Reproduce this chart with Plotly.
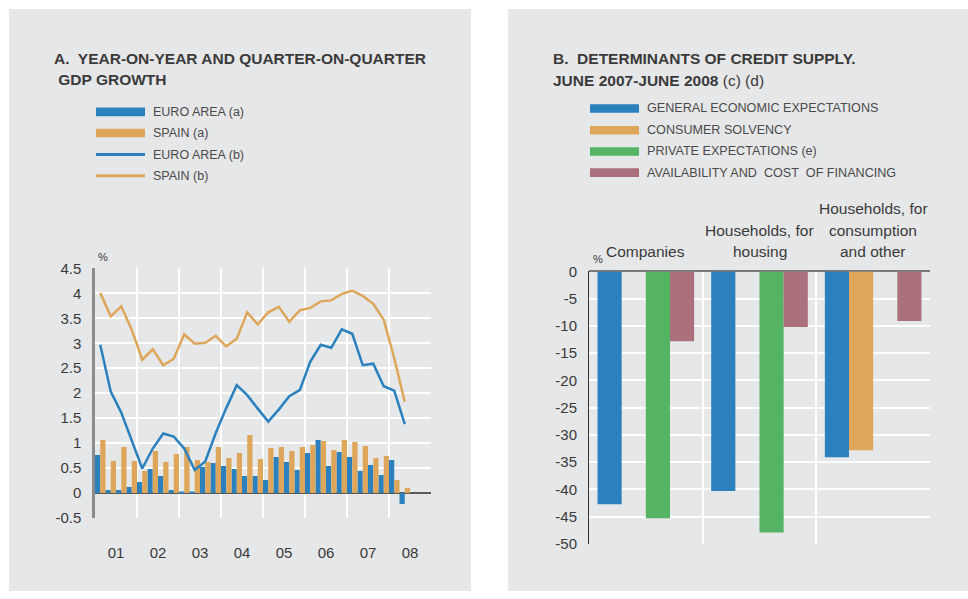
import plotly.graph_objects as go

W, H = 968, 599
BG = "#E6E7E8"
BLUE = "#2A81BE"
ORANGE = "#DDA65B"
GREEN = "#54B463"
PINK = "#AB707B"
TXT = "#3a3a3a"
FONT = "Liberation Sans, Arial, sans-serif"

# ---------------- Panel A data ----------------
quarters = [f"{y}Q{q}" for y in range(2001, 2009) for q in range(1, 5)][:30]
euro_qoq = [0.76, 0.06, 0.06, 0.12, 0.22, 0.48, 0.34, 0.06, 0.02, 0.02,
            0.52, 0.60, 0.54, 0.48, 0.34, 0.34, 0.26, 0.72, 0.62, 0.46,
            0.80, 1.06, 0.54, 0.82, 0.72, 0.44, 0.56, 0.36, 0.66, -0.22]
spain_qoq = [1.06, 0.64, 0.92, 0.64, 0.44, 0.84, 0.62, 0.78, 0.92, 0.66,
             0.62, 0.92, 0.70, 0.80, 1.16, 0.68, 0.90, 0.92, 0.84, 0.92,
             0.96, 1.04, 0.86, 1.06, 1.02, 0.94, 0.70, 0.74, 0.26, 0.10]
euro_yoy = [2.97, 2.03, 1.61, 1.03, 0.49, 0.89, 1.19, 1.13, 0.89, 0.46,
            0.63, 1.20, 1.70, 2.16, 1.96, 1.69, 1.43, 1.67, 1.94, 2.06,
            2.63, 2.97, 2.91, 3.28, 3.19, 2.56, 2.59, 2.14, 2.05, 1.38]
spain_yoy = [4.01, 3.54, 3.74, 3.27, 2.67, 2.88, 2.56, 2.69, 3.18, 2.99,
             3.01, 3.15, 2.94, 3.09, 3.62, 3.38, 3.62, 3.73, 3.43, 3.66,
             3.71, 3.84, 3.86, 3.99, 4.05, 3.95, 3.79, 3.47, 2.70, 1.83]
years = list(range(2001, 2010))
year_labels = ["01", "02", "03", "04", "05", "06", "07", "08"]
a_yticks = [-0.5, 0, 0.5, 1, 1.5, 2, 2.5, 3, 3.5, 4, 4.5]
a_ylabels = ["-0.5", "0", "0.5", "1", "1.5", "2", "2.5", "3", "3.5", "4", "4.5"]

# ---------------- Panel B data ----------------
categories = ["Companies", "Households, for housing", "Households, for consumption and other"]
cat_label_lines = [["Companies"], ["Households, for", "housing"],
                   ["Households, for", "consumption", "and other"]]
general_expect = [-42.7, -40.3, -34.1]
consumer_solv = [None, None, -32.8]
private_expect = [-45.3, -47.9, None]
availability_cost = [-12.8, -10.2, -9.1]
b_yticks = [0, -5, -10, -15, -20, -25, -30, -35, -40, -45, -50]
b_ylabels = ["0", "-5", "-10", "-15", "-20", "-25", "-30", "-35", "-40", "-45", "-50"]

# effective vertical drawing box observed in the photographed page
Y0, HV = 9.0, 581.0


def px(x):
    return x / W


def py(y):
    return min(1.0, max(0.0, 1 - (y - Y0) / HV))


def qpos(q):
    y, n = q.split("Q")
    return int(y) + (int(n) - 0.5) / 4


xq = [qpos(q) for q in quarters]

fig = go.Figure()

# Panel A traces
fig.add_trace(go.Bar(x=xq, y=euro_qoq, width=0.125, offset=-0.125, marker_color=BLUE,
                     marker_line_width=0, name="EURO AREA (a)", xaxis="x", yaxis="y"))
fig.add_trace(go.Bar(x=xq, y=spain_qoq, width=0.125, offset=0, marker_color=ORANGE,
                     marker_line_width=0, name="SPAIN (a)", xaxis="x", yaxis="y"))
fig.add_trace(go.Scatter(x=xq, y=euro_yoy, mode="lines", line=dict(color=BLUE, width=2.5),
                         name="EURO AREA (b)", xaxis="x", yaxis="y"))
fig.add_trace(go.Scatter(x=xq, y=spain_yoy, mode="lines", line=dict(color=ORANGE, width=2.5),
                         name="SPAIN (b)", xaxis="x", yaxis="y"))

# Panel B traces
cat_x = list(range(len(categories)))
for vals, col, nm in [(general_expect, BLUE, "GENERAL ECONOMIC EXPECTATIONS"),
                      (consumer_solv, ORANGE, "CONSUMER SOLVENCY"),
                      (private_expect, GREEN, "PRIVATE EXPECTATIONS (e)"),
                      (availability_cost, PINK, "AVAILABILITY AND  COST  OF FINANCING")]:
    fig.add_trace(go.Bar(x=cat_x, y=vals, marker_color=col, marker_line_width=0, name=nm,
                         xaxis="x2", yaxis="y2"))

tickfont = dict(family=FONT, size=15, color=TXT)

fig.update_layout(
    width=W, height=H,
    margin=dict(l=0, r=0, t=0, b=0),
    paper_bgcolor="white",
    plot_bgcolor=BG,
    showlegend=False,
    barmode="group",
    bargap=0.15,
    bargroupgap=0,
    font=dict(family=FONT, color=TXT),
    xaxis=dict(domain=[px(95), px(431)], range=[2001, 2009], anchor="y",
               tickmode="array", tickvals=[y + 0.5 for y in years[:-1]], ticktext=year_labels,
               showgrid=False, zeroline=False, ticks="", tickfont=tickfont,
               ticklabelstandoff=24,
               minor=dict(tickmode="array", tickvals=years, showgrid=True,
                          gridcolor="white", gridwidth=2, ticks="")),
    yaxis=dict(domain=[py(517), py(268)], range=[-0.5, 4.5], anchor="x",
               tickmode="array", tickvals=a_yticks, ticktext=a_ylabels,
               showgrid=True, gridcolor="white", gridwidth=2,
               zeroline=True, zerolinecolor="#5a5a5a", zerolinewidth=2,
               showline=True, linecolor="#8c8c8c", linewidth=2.5,
               ticks="", tickfont=tickfont, ticklabelstandoff=8),
    xaxis2=dict(domain=[px(589), px(930)], range=[-0.5, 2.5], anchor="y2",
                tickmode="array", tickvals=cat_x, showticklabels=False,
                showgrid=False, zeroline=False, ticks="",
                minor=dict(tickmode="array", tickvals=[0.5, 1.5, 2.5], showgrid=True,
                           gridcolor="white", gridwidth=2, ticks="")),
    yaxis2=dict(domain=[py(543), py(271)], range=[-50, 0], anchor="x2",
                tickmode="array", tickvals=b_yticks, ticktext=b_ylabels,
                showgrid=True, gridcolor="white", gridwidth=2,
                zeroline=True, zerolinecolor="#7a7a7a", zerolinewidth=2,
                showline=True, linecolor="#333333", linewidth=1,
                ticks="", tickfont=tickfont, ticklabelstandoff=8),
)

shapes = []
# panel backgrounds
shapes.append(dict(type="rect", xref="paper", yref="paper", x0=px(9), x1=px(471),
                   y0=0, y1=py(7), fillcolor=BG, line_width=0, layer="below"))
shapes.append(dict(type="rect", xref="paper", yref="paper", x0=px(508), x1=1,
                   y0=0, y1=py(7), fillcolor=BG, line_width=0, layer="below"))

annotations = []


def text(x, y, s, size, anchor="left", color=TXT, xref="paper"):
    annotations.append(dict(x=x, y=y, xref=xref, yref="paper", text=s, showarrow=False,
                            xanchor=anchor, yanchor="middle",
                            font=dict(family=FONT, size=size, color=color)))


# titles
text(px(52), py(58.5), "<b>A.\u00a0 YEAR-ON-YEAR AND QUARTER-ON-QUARTER</b>", 15.5)
text(px(52), py(79.5), "<b>\u00a0GDP GROWTH</b>", 15.5)
text(px(551), py(58), "<b>B.\u00a0 DETERMINANTS OF CREDIT SUPPLY.</b>", 15.5)
text(px(551), py(80), "<b>JUNE 2007-JUNE 2008</b> (c) (d)", 15.5)

# legends A
leg_a = [("EURO AREA (a)", BLUE, 8.5), ("SPAIN (a)", ORANGE, 8.5),
         ("EURO AREA (b)", BLUE, 3), ("SPAIN (b)", ORANGE, 3)]
for (nm, col, h), yc in zip(leg_a, [111.7, 132.7, 154.3, 175.5]):
    shapes.append(dict(type="rect", xref="paper", yref="paper", x0=px(96), x1=px(145),
                       y0=py(yc + h / 2), y1=py(yc - h / 2), fillcolor=col, line_width=0))
    text(px(151), py(yc), nm, 12.5, color="#4a4a4a")

leg_b = [("GENERAL ECONOMIC EXPECTATIONS", BLUE), ("CONSUMER SOLVENCY", ORANGE),
         ("PRIVATE EXPECTATIONS (e)", GREEN), ("AVAILABILITY AND\u00a0 COST\u00a0 OF FINANCING", PINK)]
for (nm, col), yc in zip(leg_b, [108.3, 130, 151.2, 172.3]):
    shapes.append(dict(type="rect", xref="paper", yref="paper", x0=px(590), x1=px(639),
                       y0=py(yc + 4.3), y1=py(yc - 4.3), fillcolor=col, line_width=0))
    text(px(645), py(yc), nm, 12.6, color="#4a4a4a")

# % labels
text(px(96), py(257), "%", 11)
text(px(591), py(259), "%", 11)

# category labels above panel B
for i, lines in enumerate(cat_label_lines):
    n = len(lines)
    for j, ln in enumerate(lines):
        yc = 251.5 - (n - 1 - j) * 21.7
        text(i, py(yc), ln, 15.5, anchor="center", xref="x2")

fig.update_layout(shapes=shapes, annotations=annotations)
fig.write_html(
    "out.html",
    config={"displayModeBar": False},
    post_script="document.body.style.margin='0';document.body.style.padding='0';"
                "document.documentElement.style.overflow='hidden';",
)
